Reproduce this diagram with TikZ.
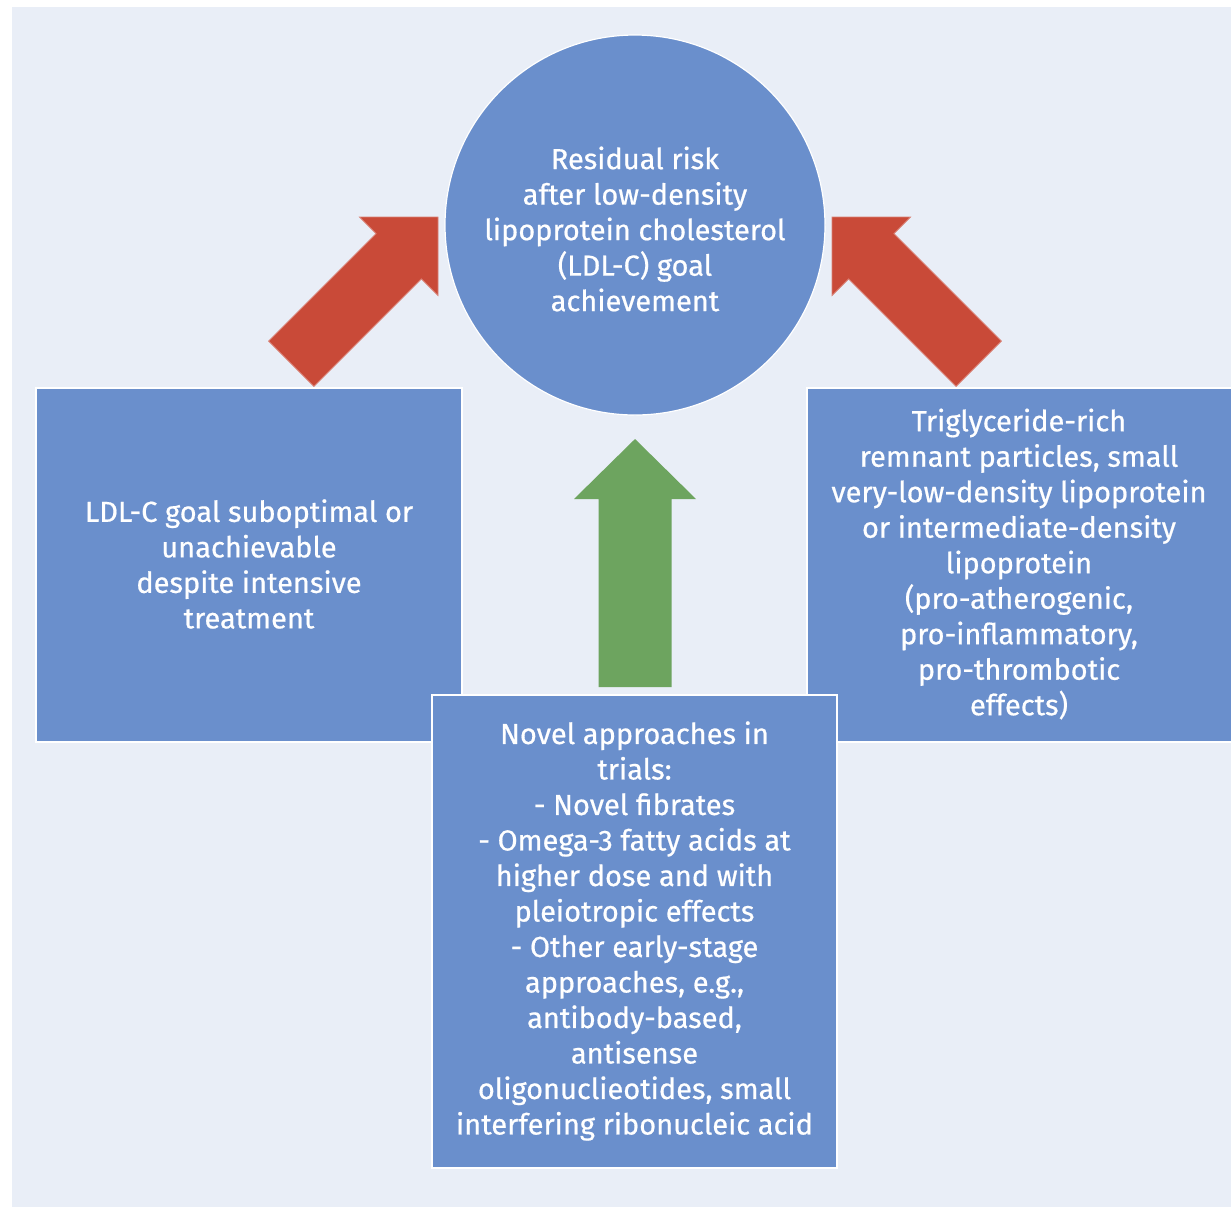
\documentclass[tikz,border=0pt]{standalone}
\usepackage{fontspec}
\setmainfont{Fira Sans}
\newfontfamily\nodefont{Fira Sans}[FakeBold=0.6]
\definecolor{bgc}{RGB}{233,238,247}
\definecolor{boxc}{RGB}{106,143,204}
\definecolor{redc}{RGB}{201,74,56}
\definecolor{greenc}{RGB}{109,164,95}
\begin{document}
\begin{tikzpicture}[x=0.5pt,y=-0.5pt,
  txt/.style={text=white,align=center,font=\nodefont\fontsize{14.5}{17.75}\selectfont,inner sep=0pt},
  bluebox/.style={fill=boxc,draw=white,line width=1pt}]
\useasboundingbox (0,0) rectangle (1231,1207);
\fill[white] (0,0) rectangle (1231,1207);
\fill[bgc] (12,7) rectangle (1231,1207);
% circle
\fill[boxc,draw=white,line width=0.6pt] (635,225) circle[radius=190];
\node[txt] (goal) at (635,229) {Residual risk\\after low-density\\lipoprotein cholesterol\\(LDL-C) goal\\achievement};
% red arrows
\begin{scope}[shift={(438,217)},rotate=45]
\fill[redc,draw=redc!70!white,line width=0.4pt] (0,0) -- (-55.5,55.5) -- (-55.5,32) -- (-207.5,32) -- (-207.5,-32) -- (-55.5,-32) -- (-55.5,-55.5) -- cycle;
\end{scope}
\begin{scope}[shift={(832,217)},rotate=135]
\fill[redc,draw=redc!70!white,line width=0.4pt] (0,0) -- (-55.5,55.5) -- (-55.5,32) -- (-207.5,32) -- (-207.5,-32) -- (-55.5,-32) -- (-55.5,-55.5) -- cycle;
\end{scope}
% green arrow
\begin{scope}[shift={(635,439)},rotate=90]
\fill[greenc] (0,0) -- (-60,61) -- (-60,36.5) -- (-248,36.5) -- (-248,-36.5) -- (-60,-36.5) -- (-60,-61) -- cycle;
\end{scope}
% boxes
\draw[bluebox] (36,388) rectangle (462,742);
\node[txt] (left) at (249,564) {LDL-C goal suboptimal or\\unachievable\\despite intensive\\treatment};
\draw[bluebox] (807,388) rectangle (1233,742);
\node[txt] (right) at (1019,564) {Triglyceride-rich\\remnant particles, small\\very-low-density lipoprotein\\or intermediate-density\\lipoprotein\\(pro-atherogenic,\\pro-inflammatory,\\pro-thrombotic\\effects)};
\draw[bluebox] (432,695) rectangle (837,1168);
\node[txt] (novel) at (634.5,931) {Novel approaches in\\trials:\\- Novel fibrates\\- Omega-3 fatty acids at\\higher dose and with\\pleiotropic effects\\- Other early-stage\\approaches, e.g.,\\antibody-based,\\antisense\\oligonuclieotides, small\\interfering ribonucleic acid};
\end{tikzpicture}
\end{document}
